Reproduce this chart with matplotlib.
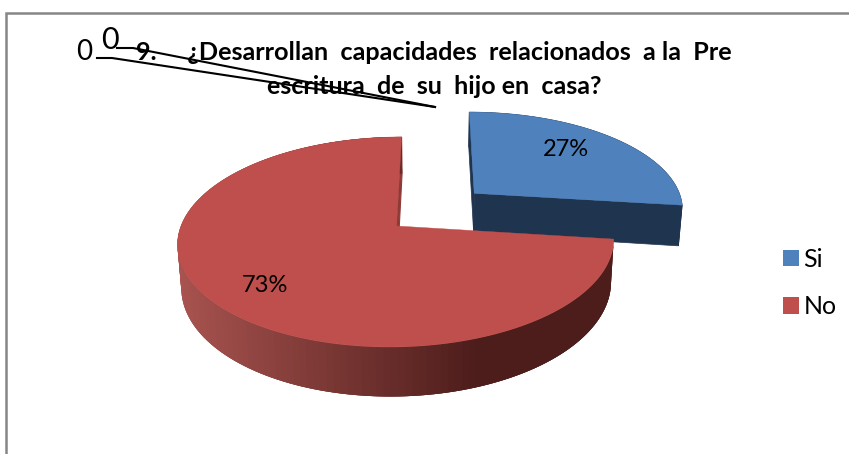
import numpy as np
import matplotlib
matplotlib.use("Agg")
import matplotlib.pyplot as plt
from matplotlib.patches import Patch, Polygon
from matplotlib.colors import to_rgb

categories = ["Si", "No"]
shares = [27, 73]
top_colors = ["#4F81BD", "#BE4F4C"]
wall_blue = "#1F344F"
side_left = "#A8534F"
side_right = "#4D1D1B"
title_lines = ["9.     ¿Desarrollan  capacidades  relacionados  a la  Pre",
               "escritura  de  su  hijo en  casa?"]

plt.rcParams["font.family"] = ["Lato", "DejaVu Sans"]
fig = plt.figure(figsize=(8.49, 4.54), dpi=100)
ax = fig.add_axes([0, 0, 1, 1])
ax.set_xlim(0, 849)
ax.set_ylim(454, 0)
ax.axis("off")

# perspective model of the tilted disc
CX, CY, A, B, K, XV, DEPTH, SHRINK = 396.5, 226.0, 215.5, 102.6, 0.152, 435.0, 42.0, 0.985


def project(theta, radius=1.0, du=0.0, dv=0.0, low=False):
    u = du + radius * np.sin(theta)
    v = dv + radius * np.cos(theta)
    w = 1 + K * v
    s = SHRINK if low else 1.0
    x = XV + (CX + A * u - XV) * s / w
    y = CY + ((-B * v) + (DEPTH if low else 0.0)) / w
    return np.column_stack([np.atleast_1d(x), np.atleast_1d(y)])


edges = np.cumsum([0] + shares) / sum(shares) * 2 * np.pi
explode = [(0.37, 0.335), (0.0, 0.0)]


def arc(i, low=False, n=160):
    t = np.linspace(edges[i], edges[i + 1], n)
    return project(t, 1.0, *explode[i], low=low)


def apex(i, low=False):
    return project(0.0, 0.0, *explode[i], low=low)


# blue slice: side walls then top
for poly in (
    np.vstack([arc(0), arc(0, low=True)[::-1]]),
    np.vstack([apex(0), project(edges[0], 1, *explode[0]), project(edges[0], 1, *explode[0], low=True), apex(0, low=True)]),
    np.vstack([apex(0), project(edges[1], 1, *explode[0]), project(edges[1], 1, *explode[0], low=True), apex(0, low=True)]),
):
    ax.add_patch(Polygon(poly, closed=True, fc=wall_blue, ec=wall_blue, lw=0.5, zorder=2))
ax.add_patch(Polygon(np.vstack([apex(0), arc(0)]), closed=True, fc=top_colors[0], ec=top_colors[0], lw=0.3, zorder=3))

# red slice: radial wall, shaded rim, top
ax.add_patch(Polygon(np.vstack([apex(1), project(edges[2], 1), project(edges[2], 1, low=True), apex(1, low=True)]),
                     closed=True, fc="#8E3B38", ec="#8E3B38", lw=0.8, zorder=4))
top = arc(1)
low = arc(1, low=True)
c0, c1 = np.array(to_rgb(side_left)), np.array(to_rgb(side_right))
# painted from the far right end round to the left so each strip overlaps its neighbour
for j in range(len(top) - 1):
    f = np.clip((480 - top[j, 0]) / (480 - 180), 0, 1)
    col = c1 + (c0 - c1) * f
    k = min(j + 3, len(top) - 1)
    ax.add_patch(Polygon(np.vstack([top[j:k + 1], low[j:k + 1][::-1]]), closed=True,
                         fc=col, ec="none", zorder=5))
ax.add_patch(Polygon(np.vstack([apex(1), top]), closed=True, fc=top_colors[1], ec=top_colors[1], lw=0.3, zorder=6))

# percentage labels
for share, (x, y) in zip(shares, [(566, 150), (265, 286)]):
    ax.text(x, y, f"{share}%", ha="center", va="center", fontsize=17, color="black", zorder=10)

# frame
ax.plot([6, 6, 849], [454, 13, 13], color="#868686", lw=1.8, zorder=1, solid_joinstyle="miter")

# title
ax.text(136, 53, title_lines[0], ha="left", va="center", fontsize=18.2, fontweight="bold", zorder=10)
ax.text(434, 87, title_lines[1], ha="center", va="center", fontsize=18, fontweight="bold", zorder=10)

# stray zeros with leader lines
ax.text(84, 52, "0", ha="center", va="center", fontsize=20, zorder=10)
ax.text(110, 40, "0", ha="center", va="center", fontsize=22, zorder=10)
ax.plot([97, 112, 435], [58, 58, 107], color="black", lw=1.5, zorder=11)
ax.plot([117, 133, 435], [48, 48, 107], color="black", lw=1.5, zorder=11)

# legend
handles = [Patch(fc=c, ec=c, lw=0) for c in top_colors]
ax.legend(handles, categories, loc="center left", bbox_to_anchor=(773 / 849, 1 - 283 / 454),
          frameon=False, fontsize=18, handlelength=0.62, handleheight=0.62, handletextpad=0.2,
          labelspacing=0.98, borderpad=0.4, borderaxespad=0)

fig.savefig("out.png", dpi=100)
